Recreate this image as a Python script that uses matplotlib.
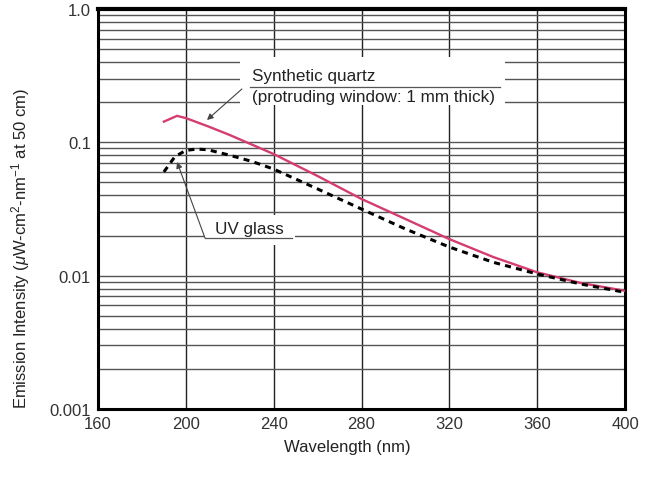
import matplotlib
matplotlib.use("Agg")
import matplotlib.pyplot as plt
from matplotlib.patches import Rectangle
from matplotlib.ticker import LogLocator, NullFormatter

plt.rcParams['font.family'] = ['Liberation Sans', 'DejaVu Sans']
plt.rcParams['mathtext.fontset'] = 'custom'
plt.rcParams['mathtext.rm'] = 'Liberation Sans'
plt.rcParams['mathtext.it'] = 'Liberation Sans:italic'

# ---- data ----
quartz_wl = [190, 196, 200, 210, 220, 240, 260, 280, 300, 320, 340, 360, 380, 400]
quartz_val = [0.143, 0.158, 0.152, 0.132, 0.1135, 0.0817, 0.0559, 0.0376, 0.0266,
              0.0188, 0.0138, 0.0106, 0.0088, 0.0077]
uv_wl = [190, 195, 200, 205, 210, 220, 230, 240, 260, 280, 300, 320, 340, 360, 380, 400]
uv_val = [0.060, 0.078, 0.087, 0.089, 0.088, 0.080, 0.072, 0.063, 0.0447, 0.0316,
          0.0224, 0.0164, 0.0126, 0.0103, 0.00865, 0.0075]
x_ticks = [160, 200, 240, 280, 320, 360, 400]
y_ticks = [0.001, 0.01, 0.1, 1.0]
y_tick_labels = ['0.001', '0.01', '0.1', '1.0']

fig = plt.figure(figsize=(6.5, 4.85), dpi=100)
ax = fig.add_axes([98/650, 75/485, 527/650, 400/485])

ax.set_yscale('log')
ax.set_xlim(160, 400)
ax.set_ylim(0.001, 1.0)
ax.set_xticks(x_ticks)
ax.set_xticklabels([str(t) for t in x_ticks])
ax.set_yticks(y_ticks)
ax.set_yticklabels(y_tick_labels)
ax.yaxis.set_minor_locator(LogLocator(base=10, subs=range(2, 10)))
ax.yaxis.set_minor_formatter(NullFormatter())
ax.tick_params(axis='both', which='both', length=0, labelsize=12, labelcolor='#333333', pad=5)

# grid
ax.grid(True, axis='x', which='major', color='#222222', lw=1.0, zorder=0)
ax.grid(True, axis='y', which='both', color='#555555', lw=1.0, zorder=0)
ax.set_axisbelow(True)

for sp in ax.spines.values():
    sp.set_linewidth(2.2)
    sp.set_color('black')
ax.spines['top'].set_linewidth(3.0)

ax.plot(quartz_wl, quartz_val, color='#d43d6e', lw=1.7, zorder=3)
ax.plot(uv_wl, uv_val, color='black', lw=2.2, ls=(0, (2.0, 1.7)), zorder=3)

# annotation: synthetic quartz
ax.add_patch(Rectangle((0.269, 0.76), 0.503, 0.12, transform=ax.transAxes,
                       facecolor='white', edgecolor='none', zorder=1))
ax.text(0.292, 0.835, 'Synthetic quartz', transform=ax.transAxes, fontsize=12.3,
        color='#222222', va='center', ha='left', zorder=4)
ax.text(0.292, 0.782, '(protruding window: 1 mm thick)', transform=ax.transAxes,
        fontsize=12.3, color='#222222', va='center', ha='left', zorder=4)
ax.plot([0.288, 0.763], [0.806, 0.806], transform=ax.transAxes, color='#555555',
        lw=0.9, zorder=4)
ax.annotate('', xy=(0.2068, 0.7225), xytext=(0.273, 0.80),
            xycoords='axes fraction', textcoords='axes fraction',
            arrowprops=dict(arrowstyle='-|>', color='#444444', lw=0.8,
                            mutation_scale=9, shrinkA=0, shrinkB=0), zorder=4)

# annotation: UV glass
ax.add_patch(Rectangle((0.203, 0.41), 0.171, 0.075, transform=ax.transAxes,
                       facecolor='white', edgecolor='none', zorder=1))
ax.text(0.222, 0.45, 'UV glass', transform=ax.transAxes, fontsize=12.3,
        color='#222222', va='center', ha='left', zorder=4)
ax.plot([0.203, 0.368], [0.4275, 0.4275], transform=ax.transAxes, color='#555555',
        lw=0.9, zorder=4)
ax.annotate('', xy=(0.150, 0.6175), xytext=(0.203, 0.4275),
            xycoords='axes fraction', textcoords='axes fraction',
            arrowprops=dict(arrowstyle='-|>', color='#444444', lw=0.8,
                            mutation_scale=9, shrinkA=0, shrinkB=0), zorder=4)

ax.set_xlabel('Wavelength (nm)', fontsize=12, color='#222222')
ax.xaxis.set_label_coords(0.474, -0.075)
ax.set_ylabel(r'Emission Intensity ($\mathit{\mu}$W-cm$^{2}$-nm$^{-1}$ at 50 cm)',
              fontsize=12, color='#222222')
ax.yaxis.set_label_coords(-0.125, 0.405)

fig.savefig('out.png', dpi=100, facecolor='white')
